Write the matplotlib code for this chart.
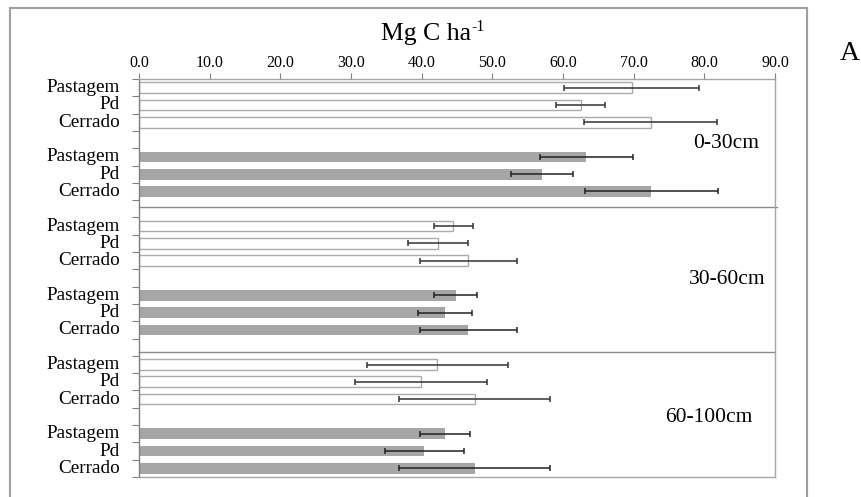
import matplotlib
matplotlib.use("Agg")
import matplotlib.pyplot as plt
from matplotlib.patches import Rectangle
import numpy as np

plt.rcParams['font.family'] = ['Liberation Serif', 'DejaVu Serif']

# ---- data ----
depths = ['0-30cm', '30-60cm', '60-100cm']
treatments = ['Pastagem', 'Pd', 'Cerrado']
white_means = [[69.7, 62.5, 72.4], [44.5, 42.3, 46.6], [42.2, 39.9, 47.5]]
white_err = [[9.6, 3.5, 9.4], [2.8, 4.3, 6.9], [10.0, 9.3, 10.7]]
gray_means = [[63.3, 57.0, 72.5], [44.8, 43.3, 46.6], [43.3, 40.4, 47.5]]
gray_err = [[6.6, 4.4, 9.4], [3.1, 3.8, 6.9], [3.6, 5.6, 10.7]]
x_ticks = [0, 10, 20, 30, 40, 50, 60, 70, 80, 90]

W, H = 861, 497
fig = plt.figure(figsize=(W / 100, H / 100), dpi=100)
ax = fig.add_axes([139 / W, 1 - 477 / H, (775 - 139) / W, (477 - 79) / H])

n_slots = 23
bar_h = 0.62
ypos_labels = []
labels = []
for g in range(3):
    base = g * 8
    for i in range(3):
        yw = base + i
        yg = base + 4 + i
        ax.barh(yw, white_means[g][i], height=bar_h, color='white',
                edgecolor='#ababab', linewidth=1.0, zorder=2)
        ax.barh(yg, gray_means[g][i], height=bar_h, color='#a6a6a6',
                edgecolor='none', zorder=2)
        ax.errorbar(white_means[g][i], yw, xerr=white_err[g][i], fmt='none',
                    ecolor='#333333', elinewidth=1.1, capsize=2, capthick=1.1, zorder=3)
        ax.errorbar(gray_means[g][i], yg, xerr=gray_err[g][i], fmt='none',
                    ecolor='#222222', elinewidth=1.1, capsize=2, capthick=1.1, zorder=3)
        ypos_labels += [yw, yg]
        labels += [treatments[i], treatments[i]]

# separators between depth groups
ax.plot([0, 90.3], [6.88, 6.88], color='#8c8c8c', lw=1.0, clip_on=False, zorder=1)
ax.plot([0, 89.8], [15.29, 15.29], color='#8c8c8c', lw=1.0, clip_on=False, zorder=1)

# depth labels
ax.text(83.1, 3.2, depths[0], ha='center', va='center', fontsize=15.5)
ax.text(83.2, 11.1, depths[1], ha='center', va='center', fontsize=15.5)
ax.text(80.7, 19.05, depths[2], ha='center', va='center', fontsize=15.5)

ax.set_xlim(0, 90)
ax.set_ylim(n_slots - 0.5, -0.5)

ax.xaxis.tick_top()
ax.set_xticks(x_ticks)
ax.set_xticklabels([f"{v:.1f}" for v in x_ticks], fontsize=11.5)
ax.tick_params(axis='x', direction='out', length=4, width=0.8, color='#808080', pad=1.5)

ax.set_yticks(np.arange(-0.5, n_slots, 1.0))
ax.set_yticklabels([])
ax.set_yticks(ypos_labels, minor=True)
ax.set_yticklabels(labels, minor=True, fontsize=13.8)
ax.tick_params(axis='y', which='major', direction='out', length=5, width=0.8, color='#808080')
ax.tick_params(axis='y', which='minor', length=0, pad=14)
for lab in ax.get_yticklabels(minor=True):
    lab.set_verticalalignment('center')

for s in ['top', 'right', 'bottom']:
    ax.spines[s].set_color('#a6a6a6')
    ax.spines[s].set_linewidth(1.0)
ax.spines['left'].set_color('#808080')
ax.spines['left'].set_linewidth(1.0)

# title "Mg C ha-1" with superscript
fig.text(471 / W, 1 - 34 / H, "Mg C ha", ha='right', va='center', fontsize=18.5)
fig.text(471 / W, 1 - 27 / H, "-1", ha='left', va='center', fontsize=11.5)
fig.text(850 / W, 1 - 54 / H, "A", ha='center', va='center', fontsize=20)

frame = Rectangle((10 / W, -0.1), (807 - 10) / W, 1.1 - 8 / H, transform=fig.transFigure,
                  fill=False, edgecolor='#a0a0a0', linewidth=1.5, clip_on=False)
fig.patches.append(frame)

fig.savefig("out.png", dpi=100)
